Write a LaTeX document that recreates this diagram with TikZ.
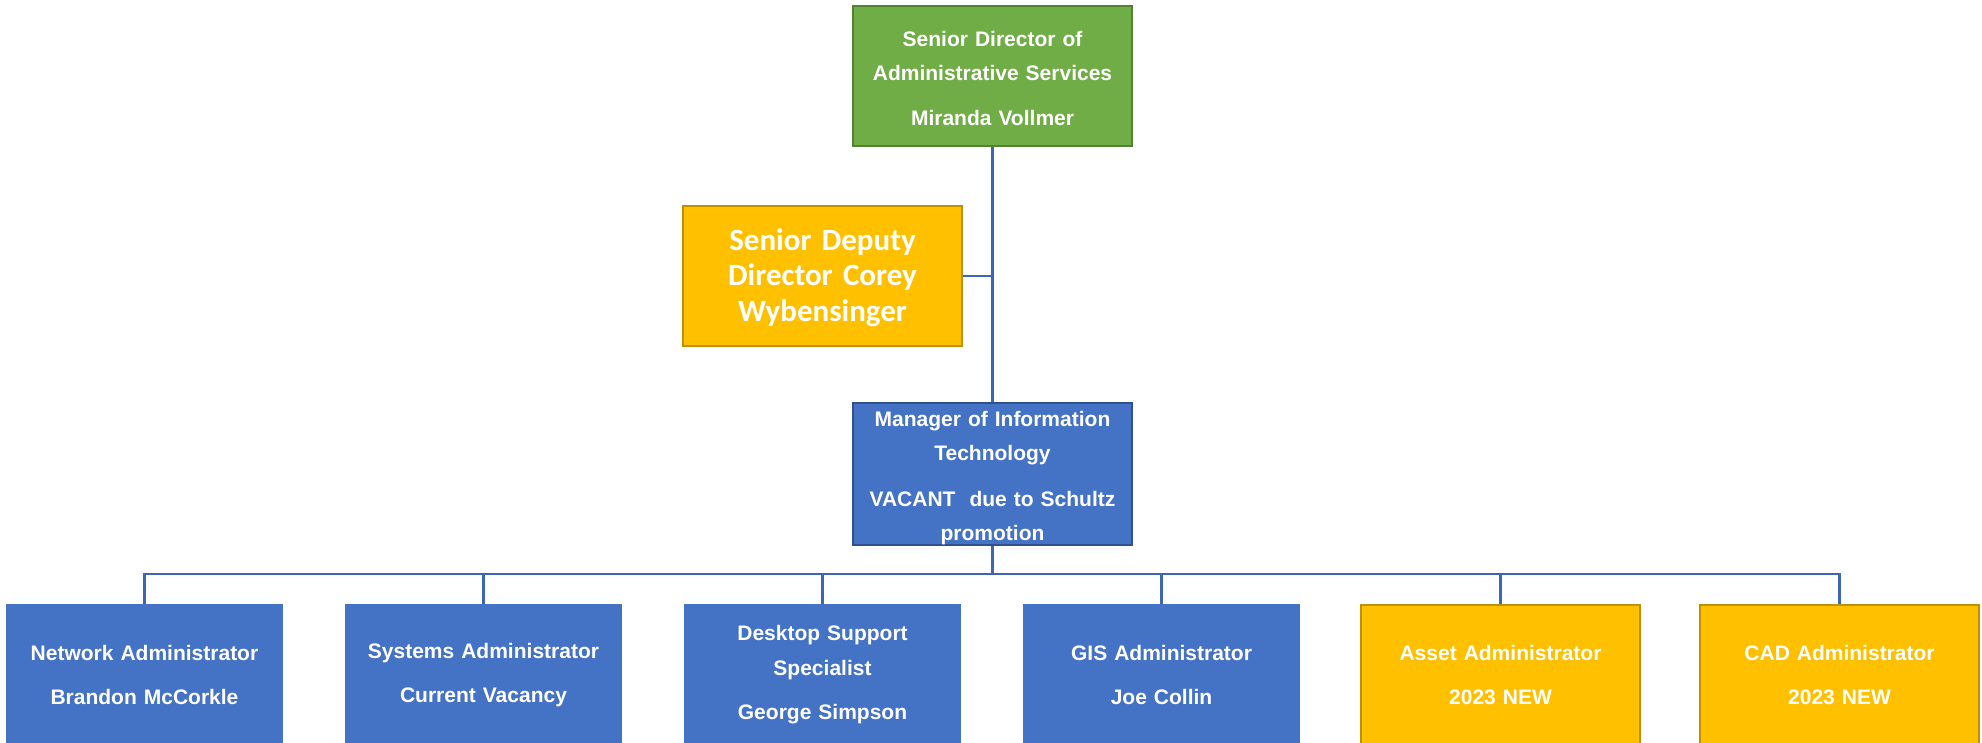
\documentclass[tikz,border=0pt]{standalone}
\usepackage{fontspec}
\setmainfont{Liberation Sans}
\newfontfamily\deputyfont{Carlito}
\usetikzlibrary{positioning}

\definecolor{leadgreen}{HTML}{70AD47}
\definecolor{leadgreenline}{HTML}{548235}
\definecolor{newgold}{HTML}{FFC000}
\definecolor{newgoldline}{HTML}{BF9000}
\definecolor{staffblue}{HTML}{4472C4}
\definecolor{staffblueline}{HTML}{2F528F}
\definecolor{linkblue}{HTML}{3F65B5}

\begin{document}
\begin{tikzpicture}[x=1pt,y=-1pt,
  post/.style={draw,line width=2.5pt,minimum width=279pt,minimum height=140pt,
    inner sep=0pt,text width=275pt,align=center,text=white,
    font=\bfseries\fontsize{21}{34.5}\selectfont},
  leadpost/.style={post,fill=leadgreen,draw=leadgreenline},
  deputypost/.style={post,fill=newgold,draw=newgoldline,
    font=\deputyfont\bfseries\fontsize{31}{35.5}\selectfont},
  mgrpost/.style={post,fill=staffblue,draw=staffblueline},
  staffpost/.style={post,fill=staffblue,draw=staffblue,minimum width=275pt},
  newpost/.style={post,fill=newgold,draw=newgoldline},
  link/.style={draw=linkblue,line width=2.6pt}]
  \useasboundingbox (0,0) rectangle (1982,742);

  \coordinate (bus) at (992.5,574);

  \node[leadpost] (director) at (992.5,76)
    {\rule{0pt}{20pt}Senior Director of\\Administrative Services\\[10pt]Miranda Vollmer};
  \node[deputypost] (deputy) at (822.5,276)
    {\rule{0pt}{25pt}Senior Deputy\\Director Corey\\Wybensinger};
  \node[mgrpost] (manager) at (992.5,474)
    {\rule{0pt}{23pt}Manager of Information\\Technology\\[11pt]VACANT\ \ due to Schultz\\promotion};

  \node[staffpost] (network) at (144.5,675) {Network Administrator\\[10pt]Brandon McCorkle};
  \node[staffpost] (systems) at (483.5,675) {Systems Administrator\\[10pt]Current Vacancy};
  \node[staffpost] (desktop) at (822.5,675) {Desktop Support\\Specialist\\[10pt]George Simpson};
  \node[staffpost] (gis) at (1161.5,675) {GIS Administrator\\[10pt]Joe Collin};
  \node[newpost] (asset) at (1500.5,675) {Asset Administrator\\[10pt]2023 NEW};
  \node[newpost] (cad) at (1839.5,675) {CAD Administrator\\[10pt]2023 NEW};

  \draw[link] (director.south) -- (manager.north);
  \draw[link] (deputy.east) -- (deputy.east -| director.south);
  \draw[link] (manager.south) -- (bus);
  \draw[link,line cap=rect] (network.north |- bus) -- (cad.north |- bus);
  \foreach \post in {network,systems,desktop,gis,asset,cad}
    \draw[link] (\post.north |- bus) -- (\post.north);
\end{tikzpicture}
\end{document}
